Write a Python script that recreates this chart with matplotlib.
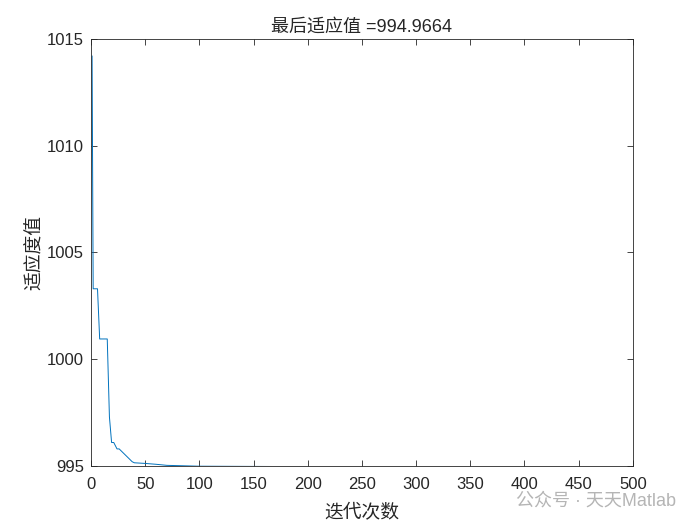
import numpy as np
import matplotlib.pyplot as plt

plt.rcParams['font.family'] = ['Liberation Sans', 'Noto Sans CJK SC', 'DejaVu Sans']

# iteration points where the curve changes
iters = [1, 2, 6, 8, 15, 17, 19, 21, 24, 26, 30, 32, 34, 36, 38, 40, 50, 60, 70, 100, 200, 500]
fitness = [1014.2, 1003.3, 1003.3, 1000.95, 1000.95, 997.3, 996.1, 996.1, 995.8, 995.8,
           995.6, 995.5, 995.4, 995.3, 995.2, 995.15, 995.12, 995.08, 995.03, 994.99,
           994.97, 994.9664]
best = 994.9664

fig = plt.figure(figsize=(7, 5.25), dpi=100)
ax = fig.add_axes([0.13, 0.1124, 0.774, 0.8133])

ax.plot(iters, fitness, color='#0072BD', linewidth=0.7)

ax.set_xlim(0, 500)
ax.set_ylim(995, 1015)
ax.set_xticks(np.arange(0, 501, 50))
ax.set_yticks([995, 1000, 1005, 1010, 1015])
ax.tick_params(direction='in', top=True, right=True, labelsize=12, length=4, width=0.6,
               colors='#262626', pad=5)
ax.tick_params(axis='x', pad=8)
for s in ax.spines.values():
    s.set_linewidth(0.6)
    s.set_color('#262626')

ax.set_title('最后适应值 =' + str(best), fontsize=13, pad=5, color='#262626')
ax.set_xlabel('迭代次数', fontsize=13.5, color='#262626', labelpad=9)
ax.set_ylabel('适应度值', fontsize=13.5, color='#262626', labelpad=2)

fig.text(0.965, 0.045, '公众号 · 天天Matlab', fontsize=13, color='#b5b5b5', ha='right', va='center')

fig.savefig('out.png')
